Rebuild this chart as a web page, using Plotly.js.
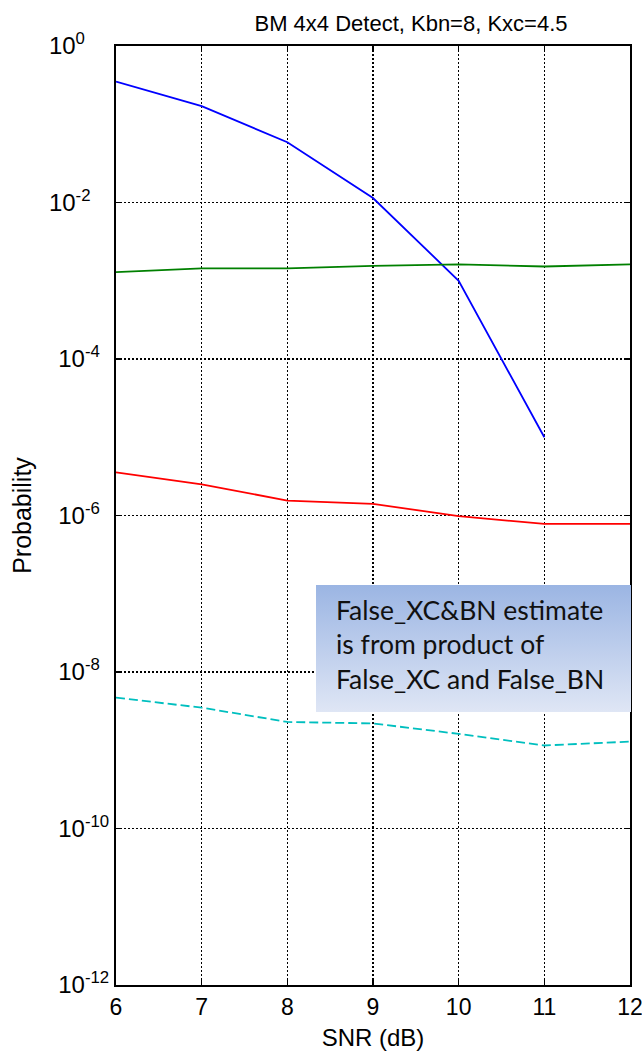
<!DOCTYPE html>
<html>
<head>
<meta charset="utf-8">
<script src="https://cdn.plot.ly/plotly-3.0.1.min.js"></script>
<style>html,body{margin:0;padding:0;background:#fff;}#chart{width:642px;height:1057px;}</style>
</head>
<body>
<div id="chart"></div>
<script>
const snr = [6, 7, 8, 9, 10, 11, 12];
const blueSeries = [0.35, 0.17, 0.059, 0.0114, 1.0e-3, 1.0e-5];
const greenSeries = [1.29e-3, 1.44e-3, 1.44e-3, 1.55e-3, 1.62e-3, 1.52e-3, 1.62e-3];
const redSeries = [3.56e-6, 2.5e-6, 1.55e-6, 1.41e-6, 0.98e-6, 7.8e-7, 7.8e-7];
const cyanSeries = [4.7e-9, 3.5e-9, 2.3e-9, 2.2e-9, 1.62e-9, 1.15e-9, 1.29e-9];
const yTickVals = [1, 1e-2, 1e-4, 1e-6, 1e-8, 1e-10, 1e-12];
const yExponents = ['0', '-2', '-4', '-6', '-8', '-10', '-12'];
const xTickVals = [6, 7, 8, 9, 10, 11, 12];
const titleText = 'BM 4x4 Detect, Kbn=8, Kxc=4.5';
const noteText = 'False_XC&amp;BN estimate<br>is from product of<br>False_XC and False_BN';

// pad each exponent with invisible text so that the base "10" sits at the same x for every label
const padChars = ['-12', '12', '2', '2', '2', '', ''];
const yTickText = yExponents.map((e, i) =>
  '10<sup>' + e + (padChars[i] ? '<span style="color:rgba(255,255,255,0)">' + padChars[i] + '</span>' : '') + '</sup>');

const traces = [
  {x: snr.slice(0, blueSeries.length), y: blueSeries, mode: 'lines', line: {color: '#0000ff', width: 1.8}},
  {x: snr, y: greenSeries, mode: 'lines', line: {color: '#008000', width: 1.8}},
  {x: snr, y: redSeries, mode: 'lines', line: {color: '#ff0000', width: 1.8}},
  {x: snr, y: cyanSeries, mode: 'lines', line: {color: '#00bfbf', width: 1.8, dash: '9px,4px'}}
];

const grad = 'data:image/svg+xml;base64,' + btoa('<svg xmlns="http://www.w3.org/2000/svg" width="100" height="100" preserveAspectRatio="none"><defs><linearGradient id="g" x1="0" y1="0" x2="0" y2="1"><stop offset="0" stop-color="#9bb5e3"/><stop offset="1" stop-color="#dfe6f5"/></linearGradient></defs><rect width="100" height="100" fill="url(#g)"/></svg>');

const FAM = 'Liberation Sans, Arial, sans-serif';

const layout = {
  width: 642, height: 1057,
  margin: {l: 116, r: 12, t: 46, b: 72},
  paper_bgcolor: '#fff', plot_bgcolor: '#fff',
  showlegend: false,
  title: {text: titleText, xref: 'container', x: 411 / 642, xanchor: 'center', y: 0.978, yanchor: 'middle',
          font: {family: FAM, size: 22, color: '#000'}},
  xaxis: {
    range: [6, 12], tickvals: xTickVals, ticktext: xTickVals.map(String),
    showgrid: true, gridcolor: '#000', griddash: '2px,2px', gridwidth: 1.2,
    showline: true, linecolor: '#000', linewidth: 2, mirror: 'ticks',
    ticks: 'inside', ticklen: 5, tickcolor: '#000', tickwidth: 1.5, zeroline: false,
    ticklabeloverflow: 'allow',
    tickfont: {family: FAM, size: 23, color: '#000'},
    title: {text: 'SNR (dB)', font: {family: FAM, size: 24, color: '#000'}, standoff: 11}
  },
  yaxis: {
    type: 'log', range: [-12, 0], tickvals: yTickVals, ticktext: yTickText,
    showgrid: true, gridcolor: '#000', griddash: '2px,2px', gridwidth: 1.2,
    showline: true, linecolor: '#000', linewidth: 2, mirror: 'ticks',
    ticks: 'inside', ticklen: 5, tickcolor: '#000', tickwidth: 1.5, zeroline: false,
    ticklabeloverflow: 'allow',
    tickfont: {family: FAM, size: 24, color: '#000'},
    title: {text: 'Probability', font: {family: FAM, size: 25, color: '#000'}, standoff: 10}
  },
  images: [{source: grad, xref: 'paper', yref: 'paper', x: (316 - 116) / 514, y: (985 - 585) / 939,
            sizex: (631 - 316) / 514, sizey: (712 - 585) / 939, sizing: 'stretch', xanchor: 'left', yanchor: 'top', layer: 'above'}],
  annotations: [{text: noteText, xref: 'paper', yref: 'paper', x: (334 - 116) / 514, y: (985 - 592) / 939,
                 xanchor: 'left', yanchor: 'top', align: 'left', showarrow: false,
                 font: {family: 'Lato, Open Sans, sans-serif', size: 26.5, color: '#111'}}]
};

Plotly.newPlot('chart', traces, layout, {displayModeBar: false, staticPlot: true});
</script>
</body>
</html>
